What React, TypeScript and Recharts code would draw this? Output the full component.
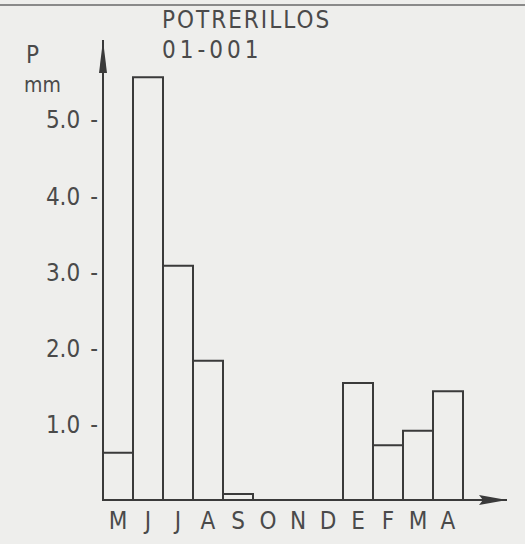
import { BarChart, Bar, XAxis, YAxis } from 'recharts';

const months = ['M', 'J', 'J', 'A', 'S', 'O', 'N', 'D', 'E', 'F', 'M', 'A'];
const precip = [0.62, 5.56, 3.08, 1.83, 0.08, 0, 0, 0, 1.54, 0.72, 0.91, 1.43];
const yTicks = [1, 2, 3, 4, 5];

const data = months.map((m, i) => ({ key: `${m}-${i}`, month: m, value: precip[i] }));

const INK = '#3a3a3a';
const TEXT = '#4a4a4a';
const PAPER = '#eeeeec';
const FONT = '"DejaVu Sans Condensed", "DejaVu Sans", sans-serif';

const YTick = ({ x, y, payload }: any) => (
  <text x={x} y={y} dy="0.36em" textAnchor="end" fill={TEXT} fontSize={24} fontFamily={FONT}>
    {Number(payload.value).toFixed(1)}
    <tspan dx={10}>-</tspan>
  </text>
);

const XTick = ({ x, y, payload }: any) => (
  <text x={x} y={y} dy="0.71em" textAnchor="middle" fill={TEXT} fontSize={24} fontFamily={FONT}>
    {months[payload.index]}
  </text>
);

export default function App() {
  return (
    <div style={{ position: 'absolute', left: 0, top: 0, width: 525, height: 544, background: PAPER, fontFamily: FONT, color: TEXT }}>
      {/* arrow heads for the hand drawn axes */}
      <svg width="0" height="0" style={{ position: 'absolute' }}>
        <defs>
          <marker id="arrY" markerUnits="userSpaceOnUse" viewBox="0 0 33 11" markerWidth={33} markerHeight={11} refX={33} refY={5.5} orient="auto-start-reverse">
            <path d="M0,1.5 L33,5.5 L0,9.5 Z" fill={INK} />
          </marker>
          <marker id="arrX" markerUnits="userSpaceOnUse" viewBox="0 0 28 11" markerWidth={28} markerHeight={11} refX={28} refY={5.5} orient="auto">
            <path d="M0,0.5 L28,5.5 L0,10.5 L4,5.5 Z" fill={INK} />
          </marker>
        </defs>
      </svg>
      <div style={{ position: 'absolute', left: 0, top: 4, width: 525, height: 2, background: '#8a8a8a' }} />
      <div style={{ position: 'absolute', left: 162, top: 6, fontSize: 24, letterSpacing: 2, lineHeight: '28px' }}>POTRERILLOS</div>
      <div style={{ position: 'absolute', left: 162, top: 36, fontSize: 24, letterSpacing: 4, lineHeight: '28px' }}>01-001</div>
      <div style={{ position: 'absolute', left: 26, top: 41, fontSize: 24, lineHeight: '28px' }}>P</div>
      <div style={{ position: 'absolute', left: 24, top: 71, fontSize: 21, lineHeight: '28px' }}>mm</div>
      <BarChart
        width={525}
        height={544}
        data={data}
        margin={{ top: 40, right: 18, left: 43, bottom: 14 }}
        barCategoryGap={0}
        style={{ position: 'absolute', left: 0, top: 0 }}
      >
        <XAxis
          dataKey="key"
          height={30}
          padding={{ left: 0, right: 44 }}
          tickLine={false}
          tickSize={0}
          tickMargin={12}
          interval={0}
          tick={<XTick />}
          axisLine={{ stroke: INK, strokeWidth: 2, markerEnd: 'url(#arrX)' }}
        />
        <YAxis
          width={60}
          domain={[0, 6.05]}
          ticks={yTicks}
          tickLine={false}
          tickSize={0}
          tickMargin={5}
          tick={<YTick />}
          axisLine={{ stroke: INK, strokeWidth: 2, markerStart: 'url(#arrY)' }}
        />
        <Bar dataKey="value" fill={PAPER} stroke={INK} strokeWidth={2} isAnimationActive={false} />
      </BarChart>
    </div>
  );
}
